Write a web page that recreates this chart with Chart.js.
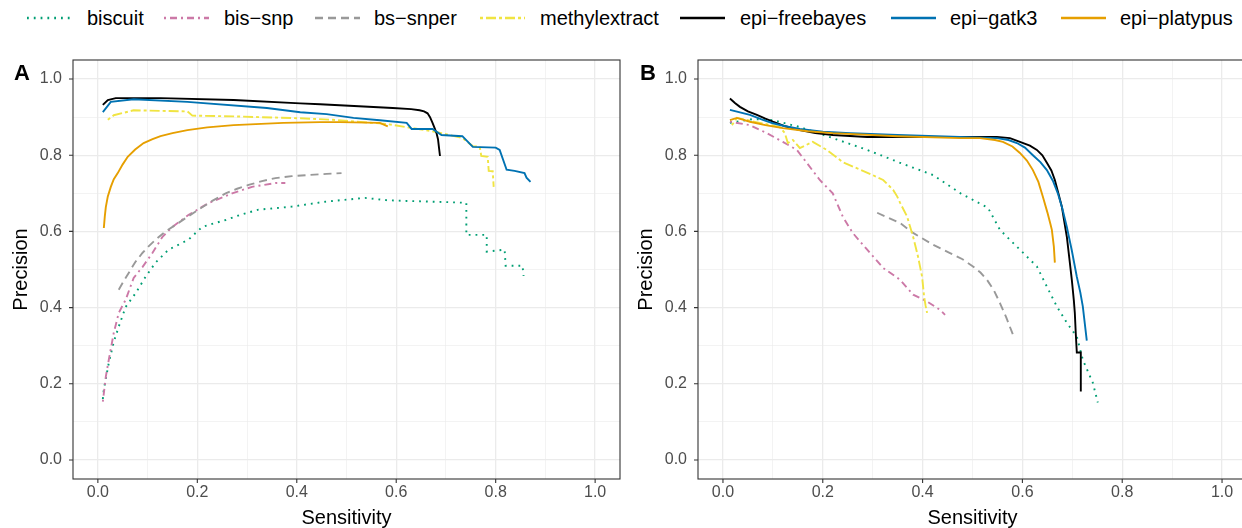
<!DOCTYPE html>
<html>
<head>
<meta charset="utf-8">
<script src="https://cdn.jsdelivr.net/npm/chart.js@4"></script>
<style>
  html, body { margin: 0; padding: 0; background: #fff; }
  body { width: 1242px; height: 528px; overflow: hidden; position: relative; font-family: "Liberation Sans", Arial, sans-serif; }
  canvas { position: absolute; top: 0; }
  #chartA { left: 0; }
  #chartB { left: 625px; }
  .tag { position: absolute; font-weight: bold; font-size: 22px; color: #000; line-height: 1; }
  .leg { position: absolute; top: 6px; height: 24px; }
  .leg svg { position: absolute; top: 0; left: 0; }
  .leg span { position: absolute; top: 0; font-size: 20px; line-height: 24px; color: #000; white-space: nowrap; }
</style>
</head>
<body>
<div id="legend"></div>
<canvas id="chartA" width="630" height="528"></canvas>
<canvas id="chartB" width="632" height="528"></canvas>
<div class="tag" style="left:14px; top:62px;">A</div>
<div class="tag" style="left:640px; top:62px;">B</div>
<script>
// Methoden und Farben
const methods = ['biscuit', 'bis\u2212snp', 'bs\u2212snper', 'methylextract', 'epi\u2212freebayes', 'epi\u2212gatk3', 'epi\u2212platypus'];
const colors = ['#009E73', '#CC79A7', '#999999', '#F0E442', '#000000', '#0072B2', '#E69F00'];
const dashes = [[1.8, 5], [2, 4, 7, 4], [8, 5], [3, 3, 10, 3], [], [], []];

// Achsen
const gridVals = [0, 0.1, 0.2, 0.3, 0.4, 0.5, 0.6, 0.7, 0.8, 0.9, 1.0];

// Panel A: Sensitivity / Precision
const sensA_biscuit = [0.01, 0.012, 0.022, 0.032, 0.042, 0.056, 0.076, 0.096, 0.116, 0.142, 0.182, 0.21, 0.257, 0.29, 0.323, 0.39, 0.457, 0.537, 0.58, 0.621, 0.701, 0.741, 0.741, 0.782, 0.782, 0.818, 0.82, 0.854, 0.856];
const precA_biscuit = [0.16, 0.185, 0.255, 0.31, 0.35, 0.402, 0.438, 0.481, 0.518, 0.552, 0.578, 0.612, 0.63, 0.645, 0.657, 0.665, 0.678, 0.688, 0.682, 0.68, 0.677, 0.675, 0.591, 0.591, 0.547, 0.552, 0.51, 0.51, 0.483];
const sensA_bissnp = [0.01, 0.016, 0.022, 0.032, 0.042, 0.056, 0.072, 0.09, 0.11, 0.13, 0.15, 0.182, 0.222, 0.27, 0.31, 0.357, 0.377];
const precA_bissnp = [0.153, 0.219, 0.263, 0.334, 0.386, 0.421, 0.478, 0.507, 0.544, 0.586, 0.612, 0.643, 0.674, 0.70, 0.717, 0.727, 0.727];
const sensA_bssnper = [0.042, 0.052, 0.062, 0.075, 0.09, 0.103, 0.116, 0.135, 0.156, 0.18, 0.202, 0.23, 0.257, 0.28, 0.303, 0.33, 0.357, 0.39, 0.423, 0.46, 0.49];
const precA_bssnper = [0.447, 0.47, 0.491, 0.519, 0.544, 0.562, 0.578, 0.599, 0.617, 0.638, 0.657, 0.68, 0.70, 0.712, 0.722, 0.732, 0.74, 0.745, 0.748, 0.751, 0.753];
const sensA_methyl = [0.02, 0.032, 0.072, 0.18, 0.19, 0.273, 0.407, 0.473, 0.581, 0.681, 0.733, 0.754, 0.768, 0.771, 0.784, 0.786, 0.794, 0.796];
const precA_methyl = [0.893, 0.905, 0.918, 0.915, 0.904, 0.902, 0.897, 0.893, 0.882, 0.861, 0.845, 0.824, 0.822, 0.798, 0.796, 0.759, 0.758, 0.717];
const sensA_freebayes = [0.01, 0.02, 0.036, 0.126, 0.273, 0.407, 0.447, 0.593, 0.63, 0.647, 0.656, 0.663, 0.668, 0.673, 0.677, 0.681, 0.684, 0.686, 0.688];
const precA_freebayes = [0.932, 0.945, 0.95, 0.95, 0.945, 0.936, 0.934, 0.924, 0.921, 0.918, 0.915, 0.91, 0.9, 0.885, 0.872, 0.858, 0.842, 0.82, 0.798];
const sensA_gatk3 = [0.01, 0.026, 0.072, 0.18, 0.34, 0.407, 0.46, 0.514, 0.567, 0.621, 0.631, 0.673, 0.691, 0.733, 0.754, 0.80, 0.808, 0.822, 0.838, 0.858, 0.862, 0.87];
const precA_gatk3 = [0.913, 0.94, 0.947, 0.94, 0.924, 0.913, 0.908, 0.898, 0.892, 0.885, 0.869, 0.869, 0.853, 0.85, 0.822, 0.82, 0.814, 0.762, 0.759, 0.753, 0.741, 0.73];
const sensA_platypus = [0.012, 0.014, 0.016, 0.02, 0.026, 0.032, 0.04, 0.05, 0.06, 0.075, 0.092, 0.11, 0.126, 0.15, 0.18, 0.22, 0.273, 0.373, 0.447, 0.487, 0.567, 0.583];
const precA_platypus = [0.609, 0.64, 0.664, 0.692, 0.717, 0.737, 0.753, 0.776, 0.796, 0.815, 0.832, 0.842, 0.85, 0.858, 0.866, 0.873, 0.879, 0.885, 0.887, 0.887, 0.885, 0.876];

// Panel B
const sensB_biscuit = [0.014, 0.06, 0.10, 0.154, 0.22, 0.289, 0.355, 0.421, 0.476, 0.531, 0.555, 0.595, 0.629, 0.649, 0.669, 0.689, 0.709, 0.721, 0.741, 0.751];
const precB_biscuit = [0.885, 0.895, 0.892, 0.874, 0.845, 0.814, 0.78, 0.748, 0.70, 0.662, 0.604, 0.552, 0.508, 0.455, 0.403, 0.36, 0.324, 0.263, 0.203, 0.151];
const sensB_bissnp = [0.014, 0.054, 0.088, 0.12, 0.148, 0.168, 0.194, 0.22, 0.24, 0.26, 0.289, 0.321, 0.355, 0.381, 0.409, 0.435, 0.445];
const precB_bissnp = [0.888, 0.879, 0.858, 0.835, 0.814, 0.78, 0.735, 0.70, 0.639, 0.596, 0.552, 0.504, 0.473, 0.434, 0.416, 0.394, 0.381];
const sensB_bssnper = [0.309, 0.355, 0.381, 0.421, 0.455, 0.48, 0.501, 0.516, 0.529, 0.543, 0.555, 0.568, 0.581];
const precB_bssnper = [0.649, 0.622, 0.596, 0.565, 0.543, 0.527, 0.508, 0.492, 0.473, 0.445, 0.412, 0.373, 0.329];
const sensB_methyl = [0.018, 0.028, 0.074, 0.114, 0.124, 0.13, 0.14, 0.154, 0.18, 0.208, 0.24, 0.268, 0.30, 0.321, 0.341, 0.349, 0.355, 0.362, 0.369, 0.375, 0.381, 0.386, 0.391, 0.395, 0.399, 0.401, 0.403, 0.406, 0.409];
const precB_methyl = [0.879, 0.898, 0.885, 0.874, 0.858, 0.832, 0.84, 0.819, 0.835, 0.814, 0.782, 0.766, 0.748, 0.735, 0.709, 0.692, 0.675, 0.657, 0.639, 0.612, 0.586, 0.56, 0.533, 0.507, 0.481, 0.455, 0.429, 0.405, 0.386];
const sensB_freebayes = [0.014, 0.024, 0.034, 0.05, 0.068, 0.085, 0.10, 0.125, 0.154, 0.185, 0.22, 0.289, 0.475, 0.549, 0.575, 0.595, 0.615, 0.629, 0.64, 0.649, 0.658, 0.665, 0.672, 0.679, 0.684, 0.689, 0.694, 0.699, 0.703, 0.705, 0.707, 0.709, 0.717, 0.717];
const precB_freebayes = [0.949, 0.937, 0.927, 0.915, 0.906, 0.896, 0.888, 0.876, 0.866, 0.858, 0.853, 0.848, 0.848, 0.848, 0.845, 0.835, 0.825, 0.814, 0.80, 0.78, 0.76, 0.735, 0.70, 0.665, 0.625, 0.586, 0.53, 0.473, 0.42, 0.386, 0.33, 0.282, 0.282, 0.18];
const sensB_gatk3 = [0.014, 0.054, 0.08, 0.10, 0.125, 0.154, 0.2, 0.255, 0.35, 0.475, 0.549, 0.572, 0.589, 0.605, 0.621, 0.636, 0.649, 0.661, 0.671, 0.68, 0.689, 0.699, 0.709, 0.716, 0.721, 0.729];
const precB_gatk3 = [0.919, 0.906, 0.893, 0.884, 0.876, 0.869, 0.862, 0.858, 0.853, 0.848, 0.845, 0.84, 0.832, 0.82, 0.80, 0.782, 0.761, 0.733, 0.70, 0.66, 0.612, 0.55, 0.481, 0.44, 0.403, 0.313];
const sensB_platypus = [0.014, 0.028, 0.054, 0.085, 0.12, 0.17, 0.22, 0.35, 0.475, 0.515, 0.545, 0.561, 0.58, 0.595, 0.609, 0.621, 0.632, 0.641, 0.65, 0.656, 0.659, 0.663, 0.665];
const precB_platypus = [0.892, 0.898, 0.888, 0.879, 0.871, 0.863, 0.858, 0.85, 0.845, 0.845, 0.84, 0.835, 0.823, 0.806, 0.786, 0.761, 0.73, 0.691, 0.65, 0.62, 0.604, 0.56, 0.518];

const seriesA = [
  [sensA_biscuit, precA_biscuit], [sensA_bissnp, precA_bissnp], [sensA_bssnper, precA_bssnper],
  [sensA_methyl, precA_methyl], [sensA_freebayes, precA_freebayes], [sensA_gatk3, precA_gatk3],
  [sensA_platypus, precA_platypus]
];
const seriesB = [
  [sensB_biscuit, precB_biscuit], [sensB_bissnp, precB_bissnp], [sensB_bssnper, precB_bssnper],
  [sensB_methyl, precB_methyl], [sensB_freebayes, precB_freebayes], [sensB_gatk3, precB_gatk3],
  [sensB_platypus, precB_platypus]
];

// Legende (HTML)
const legendPos = [
  [27, 87], [164, 224], [315, 374], [480, 540], [680, 740], [891, 950], [1061, 1120]
];
const legendDiv = document.getElementById('legend');
methods.forEach((m, i) => {
  const item = document.createElement('div');
  item.className = 'leg';
  item.style.left = legendPos[i][0] + 'px';
  const keyLen = 45;
  const dash = dashes[i].length ? `stroke-dasharray="${dashes[i].join(' ')}"` : '';
  item.innerHTML = `<svg width="${keyLen}" height="24"><line x1="0" y1="12" x2="${keyLen}" y2="12" stroke="${colors[i]}" stroke-width="2.6" ${dash}/></svg>` +
    `<span style="left:${legendPos[i][1] - legendPos[i][0]}px">${m}</span>`;
  legendDiv.appendChild(item);
});

const isMajor = v => Math.round(v * 10) % 2 === 0;

// Rahmen und Tick-Striche wie theme_bw
const panelBorder = {
  id: 'panelBorder',
  afterDraw(chart) {
    const ctx = chart.ctx;
    const a = chart.chartArea;
    ctx.save();
    ctx.strokeStyle = '#333333';
    ctx.lineWidth = 1.1;
    ctx.strokeRect(a.left, a.top, a.right - a.left, a.bottom - a.top);
    gridVals.filter(isMajor).forEach(v => {
      const y = chart.scales.y.getPixelForValue(v);
      const x = chart.scales.x.getPixelForValue(v);
      ctx.beginPath();
      ctx.moveTo(a.left - 4, y); ctx.lineTo(a.left, y);
      ctx.moveTo(x, a.bottom); ctx.lineTo(x, a.bottom + 4);
      ctx.stroke();
    });
    ctx.restore();
  }
};

function axisOpts(title, isX) {
  return {
    type: 'linear',
    min: -0.05,
    max: 1.05,
    afterBuildTicks: scale => { scale.ticks = gridVals.map(v => ({ value: v })); },
    afterFit: scale => {
      if (isX) scale.height = 49; else scale.width = 73;
    },
    grid: {
      color: '#EBEBEB',
      lineWidth: ctx => (ctx.tick && isMajor(ctx.tick.value)) ? 1.3 : 0.6,
      drawTicks: false
    },
    border: { display: false },
    ticks: {
      autoSkip: false,
      maxRotation: 0,
      color: '#4D4D4D',
      font: { family: '"Liberation Sans", Arial, sans-serif', size: 16 },
      padding: isX ? 4 : 11,
      callback: v => isMajor(v) ? v.toFixed(1) : ''
    },
    title: {
      display: true,
      text: title,
      color: '#000',
      font: { family: '"Liberation Sans", Arial, sans-serif', size: 20, lineHeight: 1 },
      padding: isX ? { top: 0, bottom: 0 } : { top: 11, bottom: 0 }
    }
  };
}

function makePanel(id, series) {
  const datasets = series.map((s, i) => ({
    label: methods[i],
    data: s[0].map((x, k) => ({ x: x, y: s[1][k] })),
    borderColor: colors[i],
    backgroundColor: colors[i],
    borderWidth: 1.9,
    borderDash: dashes[i],
    pointRadius: 0,
    tension: 0,
    fill: false,
    order: methods.length - i
  }));
  return new Chart(document.getElementById(id), {
    type: 'line',
    data: { datasets: datasets },
    options: {
      responsive: false,
      animation: false,
      devicePixelRatio: 1,
      layout: { padding: { top: 60, right: 10, left: 0, bottom: 0 } },
      plugins: { legend: { display: false }, tooltip: { enabled: false } },
      scales: {
        x: axisOpts('Sensitivity', true),
        y: axisOpts('Precision', false)
      }
    },
    plugins: [panelBorder]
  });
}

makePanel('chartA', seriesA);
makePanel('chartB', seriesB);
</script>
</body>
</html>
